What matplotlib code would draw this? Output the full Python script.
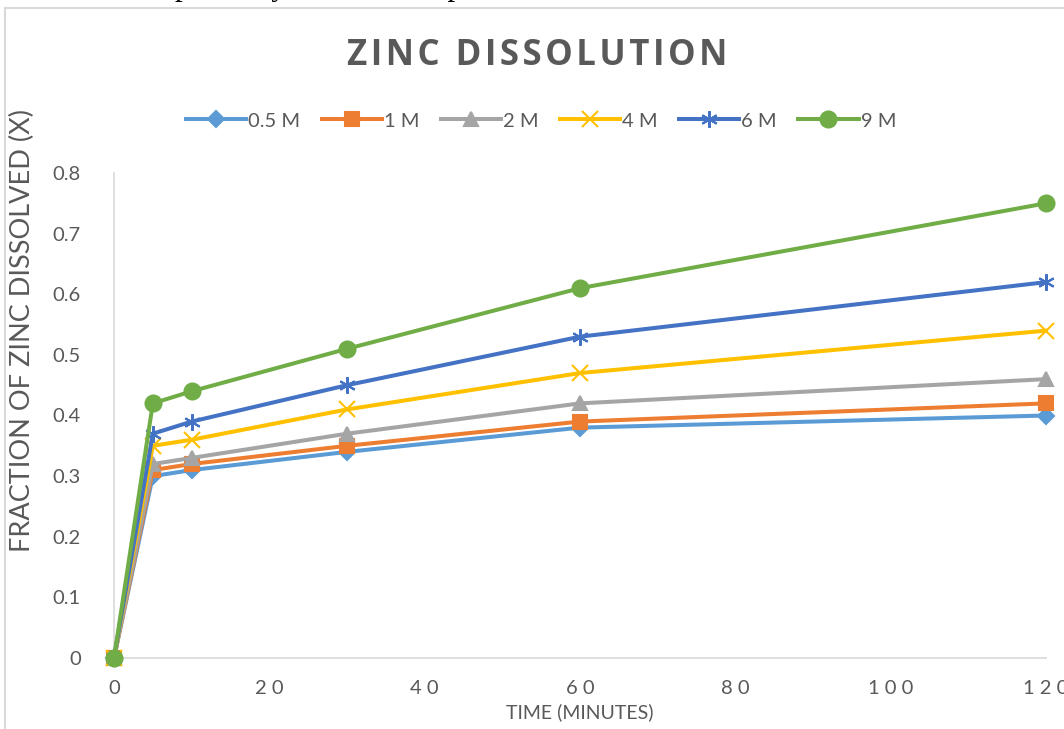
import matplotlib.pyplot as plt
from matplotlib.patches import Rectangle

# Sampling times (minutes) and fraction of zinc dissolved per acid concentration
time_min = [0, 5, 10, 30, 60, 120]
conc_labels = ['0.5 M', '1 M', '2 M', '4 M', '6 M', '9 M']
x_05 = [0, 0.30, 0.31, 0.34, 0.38, 0.40]
x_1 = [0, 0.31, 0.32, 0.35, 0.39, 0.42]
x_2 = [0, 0.32, 0.33, 0.37, 0.42, 0.46]
x_4 = [0, 0.35, 0.36, 0.41, 0.47, 0.54]
x_6 = [0, 0.37, 0.39, 0.45, 0.53, 0.62]
x_9 = [0, 0.42, 0.44, 0.51, 0.61, 0.75]

series = [x_05, x_1, x_2, x_4, x_6, x_9]
colors = ['#5B9BD5', '#ED7D31', '#A5A5A5', '#FFC000', '#4472C4', '#70AD47']
markers = ['D', 's', '^', 'x', (6, 2, 0), 'o']
msizes = [8, 10, 10, 11, 12, 11.5]

plt.rcParams['font.family'] = ['Lato', 'DejaVu Sans']
text_col = '#595959'

fig = plt.figure(figsize=(10.64, 7.29), dpi=100)

# chart frame and the clipped line of body text above it
fig.patches.append(Rectangle((5 / 1064, -0.01), 1.1, 1 - 8 / 729 + 0.01,
                             transform=fig.transFigure, fill=False,
                             edgecolor='#d9d9d9', linewidth=1.5))
fig.text(-2 / 1064, 1 + 5 / 729, 'dissolution respectively at a certain speed',
         family='Liberation Serif', fontsize=22, va='baseline', ha='left')

ax = fig.add_axes([114 / 1064, 1 - 658 / 729, 932 / 1064, 485 / 729])

for ys, lab, c, m, ms in zip(series, conc_labels, colors, markers, msizes):
    ax.plot(time_min, ys, color=c, linewidth=2.9, marker=m, markersize=ms,
            markeredgewidth=1.5, label=lab, clip_on=False, zorder=3)

ax.set_xlim(0, 120)
ax.set_ylim(0, 0.8)
ax.set_xticks(range(0, 121, 20))
ax.set_yticks([i / 10 for i in range(9)])
ax.set_yticklabels(['0'] + ['0.%d' % i for i in range(1, 9)])
ax.set_xticklabels([' '.join(str(v)) for v in range(0, 121, 20)])

for side in ['top', 'right']:
    ax.spines[side].set_visible(False)
for side in ['left', 'bottom']:
    ax.spines[side].set_color('#d9d9d9')
    ax.spines[side].set_linewidth(1.2)
ax.tick_params(length=0, labelsize=14.5, colors=text_col, pad=16)
ax.tick_params(axis='y', pad=24)

ax.set_xlabel('TIME (MINUTES)', fontsize=14, color=text_col, labelpad=4)
ax.set_ylabel('FRACTION OF ZINC DISSOLVED (X)', fontsize=19.5, color=text_col)
ax.yaxis.set_label_coords(35 / 1064, 1 - 330 / 729, transform=fig.transFigure)

# letter-spaced title using hair spaces between characters
title = '\u200a'.join('ZINC DISSOLUTION')
fig.text(537 / 1064, 1 - 56 / 729, title, family=['Open Sans', 'DejaVu Sans'],
         fontsize=25, fontweight='bold', color=text_col, ha='center', va='center')

fig.legend(loc='center', bbox_to_anchor=(541 / 1064, 1 - 121 / 729), ncol=6,
           frameon=False, fontsize=14.5, labelcolor=text_col, handlelength=3,
           handletextpad=0.1, columnspacing=1.05)

fig.savefig('out.png', dpi=100)
